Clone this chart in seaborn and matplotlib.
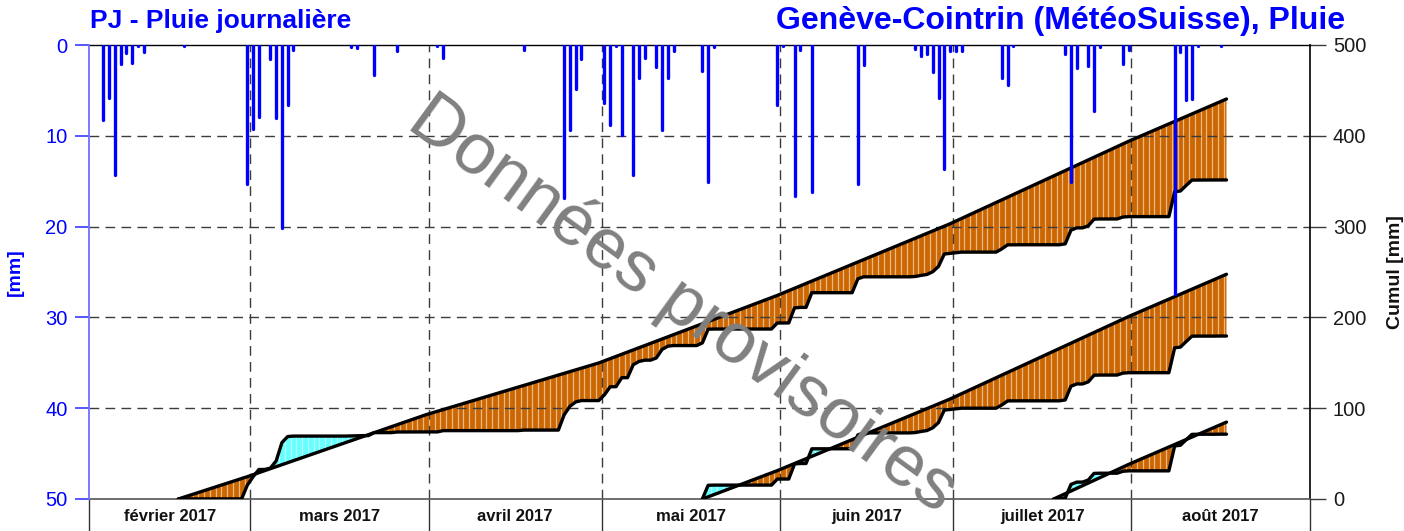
import numpy as np
import pandas as pd
import matplotlib
matplotlib.use("Agg")
import matplotlib.pyplot as plt
import seaborn as sns

# ---- data -------------------------------------------------------------
origin = pd.Timestamp("2017-02-01")
period_end = pd.Timestamp("2017-09-01")

month_starts = ["2017-02-01", "2017-03-01", "2017-04-01", "2017-05-01",
                "2017-06-01", "2017-07-01", "2017-08-01", "2017-09-01"]
month_labels = ["février 2017", "mars 2017", "avril 2017", "mai 2017",
                "juin 2017", "juillet 2017", "août 2017"]

# daily rainfall [mm] (days without rain omitted)
rain_dates = ["2017-02-03", "2017-02-04", "2017-02-05", "2017-02-06", "2017-02-07",
              "2017-02-08", "2017-02-09", "2017-02-10", "2017-02-17", "2017-02-28",
              "2017-03-01", "2017-03-02", "2017-03-04", "2017-03-05", "2017-03-06",
              "2017-03-07", "2017-03-08", "2017-03-18", "2017-03-19", "2017-03-22",
              "2017-03-26", "2017-04-02", "2017-04-03", "2017-04-17", "2017-04-24",
              "2017-04-25", "2017-04-26", "2017-04-27", "2017-05-01", "2017-05-02",
              "2017-05-03", "2017-05-04", "2017-05-06", "2017-05-07", "2017-05-08",
              "2017-05-10", "2017-05-11", "2017-05-12", "2017-05-13", "2017-05-18",
              "2017-05-19", "2017-05-20", "2017-05-31", "2017-06-01", "2017-06-03",
              "2017-06-04", "2017-06-06", "2017-06-14", "2017-06-15", "2017-06-24",
              "2017-06-25", "2017-06-26", "2017-06-27", "2017-06-28", "2017-06-29",
              "2017-06-30", "2017-07-01", "2017-07-02", "2017-07-09", "2017-07-10",
              "2017-07-11", "2017-07-20", "2017-07-21", "2017-07-22", "2017-07-24",
              "2017-07-25", "2017-07-26", "2017-07-30", "2017-07-31", "2017-08-08",
              "2017-08-09", "2017-08-10", "2017-08-11", "2017-08-12", "2017-08-16"]
rain_mm = [8.3, 5.8, 14.3, 2.1, 0.9,
           2.0, 0.1, 0.8, 0.1, 15.3,
           9.2, 7.9, 1.5, 8.0, 20.2,
           6.6, 0.5, 0.2, 0.3, 3.3,
           0.7, 0.1, 1.4, 0.6, 16.8,
           9.4, 4.8, 1.5, 6.4, 8.8,
           0.1, 9.9, 14.3, 3.6, 1.4,
           2.4, 9.4, 3.6, 0.7, 2.9,
           15.1, 0.2, 6.6, 0.1, 16.6,
           0.5, 16.2, 15.3, 2.2, 0.4,
           1.2, 1.0, 3.0, 5.8, 13.7,
           0.7, 0.7, 0.7, 3.6, 4.4,
           0.1, 1.0, 15.1, 2.5, 2.3,
           7.3, 0.2, 2.1, 0.5, 27.4,
           0.8, 6.1, 5.9, 0.1, 0.1]

# climatological normal, mean daily rainfall per month [mm/day] (Feb..Aug)
normal_rate = [2.05, 2.20, 1.90, 2.40, 2.63, 2.93, 2.74]

# accumulation windows (start day has zero accumulation)
window_starts = ["2017-02-16", "2017-05-18", "2017-07-18"]
window_end = "2017-08-17"

# ---- derived daily series ---------------------------------------------
n_days = (period_end - origin).days
dates = pd.date_range(origin, periods=n_days, freq="D")
rain = np.zeros(n_days)
rain_idx = np.array([(pd.Timestamp(d) - origin).days for d in rain_dates])
rain[rain_idx] = rain_mm
rate = np.array(normal_rate)[dates.month.values - 2]
month_pos = np.array([(pd.Timestamp(d) - origin).days for d in month_starts])
end_idx = (pd.Timestamp(window_end) - origin).days

# ---- style ------------------------------------------------------------
sns.set_theme(style="white")
plt.rcParams["font.family"] = ["Liberation Sans", "DejaVu Sans"]

BLUE = "#0000ff"
ORANGE = "#cc6600"
CYAN = "#66ffff"
GRID = "#3c3c3c"

fig = plt.figure(figsize=(14.04, 5.31), dpi=100)
W, H = 1404, 531
ax_c = fig.add_axes([89 / W, 1 - 499 / H, (1310 - 89) / W, (499 - 45) / H])
ax_r = ax_c.twinx()

ax_c.set_xlim(0, n_days)
ax_c.set_ylim(0, 500)
ax_r.set_ylim(50, 0)

# dashed grid
for v in [100, 200, 300, 400]:
    ax_c.axhline(v, color=GRID, lw=1.0, ls=(0, (7, 4.5)), zorder=1.5)
for m in month_pos[1:-1]:
    ax_c.axvline(m, color=GRID, lw=1.0, ls=(0, (7, 4.5)), zorder=1.5)

# cumulative rain vs. cumulative normal
for ws in window_starts:
    s = (pd.Timestamp(ws) - origin).days
    idx = np.arange(s, end_idx + 1)
    x = idx + 0.5
    obs = np.concatenate([[0.0], np.cumsum(rain[s + 1:end_idx + 1])])
    norm = np.concatenate([[0.0], np.cumsum(rate[s + 1:end_idx + 1])])
    ax_c.fill_between(x, obs, norm, where=obs <= norm, interpolate=True,
                      color=ORANGE, lw=0, zorder=1)
    ax_c.fill_between(x, obs, norm, where=obs >= norm, interpolate=True,
                      color=CYAN, lw=0, zorder=1)
    xb = np.arange(s + 1, end_idx + 1).astype(float)
    o_b = np.interp(xb, x, obs)
    n_b = np.interp(xb, x, norm)
    ax_c.vlines(xb, np.minimum(o_b, n_b), np.maximum(o_b, n_b),
                colors="white", lw=0.9, alpha=0.55, zorder=1.2)
    sns.lineplot(x=x, y=norm, ax=ax_c, color="black", lw=2.4,
                 estimator=None, sort=False, zorder=3)
    sns.lineplot(x=x, y=obs, ax=ax_c, color="black", lw=2.4,
                 estimator=None, sort=False, zorder=3)

# daily rain bars hanging from the top
ax_r.vlines(rain_idx + 0.5, 0, rain_mm, colors=BLUE, lw=2.4,
            capstyle="round", zorder=4)

# ---- axes decoration --------------------------------------------------
ax_c.yaxis.tick_right()
ax_c.yaxis.set_label_position("right")
ax_c.set_yticks(np.arange(0, 501, 100))
ax_c.tick_params(axis="y", which="major", direction="out", length=11.5,
                 width=1.0, color=GRID, labelsize=14.5, labelcolor="#1a1a1a",
                 pad=5, right=True, left=False, labelright=True, labelleft=False)

ax_r.yaxis.tick_left()
ax_r.yaxis.set_label_position("left")
ax_r.set_yticks(np.arange(0, 51, 10))
ax_r.tick_params(axis="y", which="major", direction="out", length=10,
                 width=1.2, color="#3a3aff", labelsize=14.5, labelcolor=BLUE,
                 pad=5.5, left=True, right=False, labelleft=True, labelright=False)

# month band below the plot
ax_c.set_xticks(month_pos)
ax_c.set_xticklabels([])
mid = (month_pos[:-1] + month_pos[1:]) / 2
ax_c.set_xticks(mid, minor=True)
ax_c.set_xticklabels(month_labels, minor=True, fontsize=12, fontweight="bold",
                     color="#111111")
ax_c.tick_params(axis="x", which="major", direction="out", length=24,
                 width=1.0, color="#333333", bottom=True, top=False)
ax_c.tick_params(axis="x", which="minor", length=0, pad=7)
ax_c.set_xlabel("")
ax_c.set_ylabel("")
ax_r.set_ylabel("")

for sp in ax_c.spines.values():
    sp.set_visible(False)
for sp in ax_r.spines.values():
    sp.set_visible(False)
ax_c.spines["top"].set_visible(True)
ax_c.spines["top"].set_color("black")
ax_c.spines["top"].set_linewidth(1.0)
ax_c.spines["right"].set_visible(True)
ax_c.spines["right"].set_color("black")
ax_c.spines["right"].set_linewidth(1.2)
ax_c.spines["bottom"].set_visible(True)
ax_c.spines["bottom"].set_color("#555555")
ax_c.spines["bottom"].set_linewidth(1.2)
ax_r.spines["left"].set_visible(True)
ax_r.spines["left"].set_color("#7070ff")
ax_r.spines["left"].set_linewidth(1.3)

# titles and axis labels
fig.text(90 / W, 1 - 21 / H, "PJ - Pluie journalière", color=BLUE,
         fontsize=19, fontweight="bold", ha="left", va="center")
fig.text(1345 / W, 1 - 21 / H, "Genève-Cointrin (MétéoSuisse), Pluie",
         color=BLUE, fontsize=23, fontweight="bold", ha="right", va="center")
fig.text(15 / W, 1 - 272 / H, "[mm]", color=BLUE, fontsize=14,
         fontweight="bold", rotation=90, ha="center", va="center")
fig.text(1395 / W, 1 - 272 / H, "Cumul [mm]", color="#111111", fontsize=14,
         fontweight="bold", rotation=90, ha="center", va="center")

# provisional-data stamp
fig.text(683 / W, 1 - 305 / H, "Données provisoires", color="#808080",
         fontsize=52, rotation=-36, rotation_mode="anchor",
         ha="center", va="center", zorder=10)

fig.savefig("out.png", dpi=100)
